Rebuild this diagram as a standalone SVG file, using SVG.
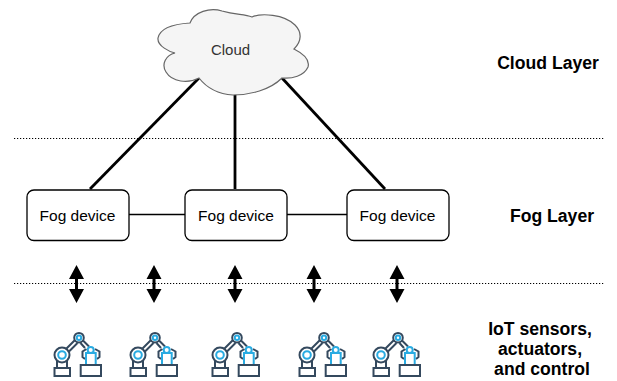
<svg xmlns="http://www.w3.org/2000/svg" width="617" height="381" viewBox="0 0 617 381">
<style>
text{font-family:"Liberation Sans",Arial,sans-serif}
.box{fill:#fff;stroke:#000;stroke-width:1.3}
.lbl{font-size:15.500px;fill:#000;text-anchor:middle}
.layer{font-size:17.600px;font-weight:bold;fill:#000;text-anchor:middle}
.dot{stroke:#000;stroke-width:1.2;stroke-dasharray:1.2 1.8;fill:none}
.thick{stroke:#000;stroke-width:2.800;fill:none}
.thin{stroke:#000;stroke-width:1.3;fill:none}
.dk{fill:none;stroke:#34495e;stroke-width:2}
.bl{fill:none;stroke:#29abe2;stroke-width:2}
</style>
<defs>
<g id="arrow">
<path d="M0 0 L-7.500 14 L-1.500 14 L-1.500 24 L-7.500 24 L0 38 L7.500 24 L1.500 24 L1.500 14 L7.500 14 Z" fill="#000"/>
</g>
<g id="robot">
<rect x="0.500" y="26" width="15.500" height="8" class="dk"/>
<path d="M3 26 L3 19 M13 26 L13 19" class="dk"/>
<circle cx="8" cy="13" r="7.500" class="dk"/>
<circle cx="8" cy="13" r="3.800" class="bl"/>
<path d="M12.500 6.500 L21 -2 M15 9.500 L23.500 1" class="dk"/>
<circle cx="25" cy="-4.300" r="4.800" class="dk"/>
<circle cx="25" cy="-4.300" r="2.200" class="bl"/>
<path d="M29 -1.500 L35 4.500 M26.500 1 L31 6" class="dk"/>
<path d="M31 17 L28.500 15 L28.500 9.500 L32.500 7 M41 7 L45.500 9.500 L45.500 15 L43 17" class="dk"/>
<circle cx="36.700" cy="8" r="3" class="bl"/>
<rect x="32" y="11" width="9.700" height="12" class="bl"/>
<rect x="26.700" y="23" width="20.300" height="11" class="dk"/>
</g>
</defs>
<g id="connectors">
<path class="thick" d="M199 78 L90 189"/>
<path class="thick" d="M235 94 L235 189"/>
<path class="thick" d="M282 78 L385 189"/>
<path class="thin" d="M129 214.500 L185 214.500"/>
<path class="thin" d="M287 214.500 L347 214.500"/>
<path class="dot" d="M14 138.500 H604"/>
<path class="dot" d="M14 283.500 H604"/>
<use href="#arrow" x="76.500" y="265"/>
<use href="#arrow" x="154" y="265"/>
<use href="#arrow" x="235" y="265"/>
<use href="#arrow" x="314" y="265"/>
<use href="#arrow" x="397" y="265"/>
</g>
<g id="cloud">
<path d="M190 23 C194 12 210 7 222 11 C236 15 244 14 252 17 C261 13 284 14 295 25 C302 32 302 41 294 49 C304 54 310 60 308 67 C304 76 292 79 282 78 C270 90 250 95 233 95 C217 94 206 87 199 78 C188 84 172 82 166 72 C161 64 166 55 175 53 C170 52 157 46 158 38 C160 28 174 24 190 23 Z" fill="#f5f5f5" stroke="#666" stroke-width="1.200"/>
<text x="230.500" y="55" font-size="15" fill="#333" text-anchor="middle">Cloud</text>
</g>
<g id="fog1"><rect class="box" x="27" y="190" width="102" height="50.500" rx="7"/><text class="lbl" x="77.500" y="221">Fog device</text></g>
<g id="fog2"><rect class="box" x="185" y="190" width="102" height="50.500" rx="7"/><text class="lbl" x="236" y="221">Fog device</text></g>
<g id="fog3"><rect class="box" x="347" y="190" width="102" height="50.500" rx="7"/><text class="lbl" x="397.500" y="221">Fog device</text></g>
<g id="robots">
<use href="#robot" x="54" y="342"/>
<use href="#robot" x="130" y="342"/>
<use href="#robot" x="212" y="342"/>
<use href="#robot" x="299" y="342"/>
<use href="#robot" x="373" y="342"/>
</g>
<g id="labels">
<text class="layer" x="548" y="69">Cloud Layer</text>
<text class="layer" x="552" y="222">Fog Layer</text>
<text class="layer" x="540" y="335">IoT sensors,</text>
<text class="layer" x="540" y="355">actuators,</text>
<text class="layer" x="542" y="375">and control</text>
</g>
</svg>
